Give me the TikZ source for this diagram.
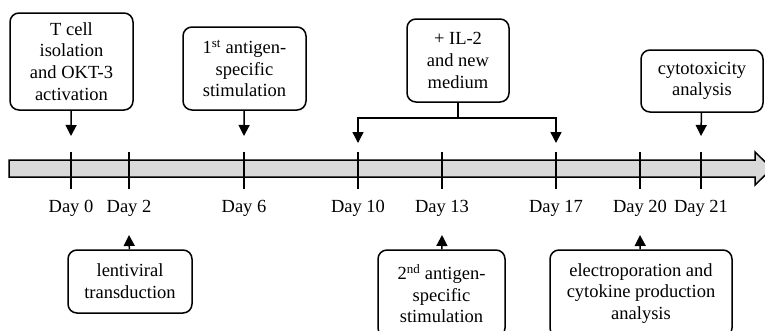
\documentclass[tikz,border=0pt]{standalone}
\usepackage{fontspec}
\setmainfont{Liberation Serif}
\usetikzlibrary{arrows.meta}

\begin{document}
\begin{tikzpicture} [-> , >= {Triangle[length = 11pt, width = 11pt]}, x = 1pt, y = -1pt, line width = 1.5pt,
        box/.style = {draw, rounded corners = 9pt, align = center, inner sep = 0pt, font = \fontsize{18.5}{21.7}\selectfont},
        day/.style = {font = \fontsize{18.5}{21.7}\selectfont},
        tick/.style = {-, line width = 2pt}]
        \useasboundingbox (0, 0) rectangle (765, 330);

        % time line
        \draw [-, fill = gray!30] (9, 160) -- (755, 160) -- (755, 152) -- (772, 168.5) -- (755, 185) -- (755, 177) -- (9, 177) -- cycle;
        \foreach \d/\x in {0/71, 2/129, 6/244, 10/358, 13/442, 17/556, 20/640, 21/701} {
            \draw [tick] (\x, 152) -- (\x, 189);
            \node [day] (d\d) at (\x, 208) {Day \d};
            \coordinate (up\d) at (\x, 136);
            \coordinate (lo\d) at (\x, 235);
        }

        \node [box, minimum width = 123pt, minimum height = 97pt] (isol) at (71.5, 61.5) {T cell\\ isolation\\ and OKT-3\\ activation};
        \node [box, minimum width = 123pt, minimum height = 83pt] (stim1) at (244.5, 68.5) {1\textsuperscript{st} antigen-\\ specific\\ stimulation};
        \node [box, minimum width = 102pt, minimum height = 83pt] (il2) at (458, 60.5) {+ IL-2\\ and new\\ medium};
        \node [box, minimum width = 122pt, minimum height = 62pt] (cyto) at (702, 81) {cytotoxicity\\ analysis};

        \path (isol) edge (up0);
        \path (stim1) edge (up6);
        \path (cyto) edge (up21);

        \coordinate (fork) at (458, 118);
        \draw [-] (il2) -- (fork);
        \draw [->] (fork) -| ([yshift = -7pt] up10);
        \draw [->] (fork) -| ([yshift = -7pt] up17);

        \node [box, minimum width = 124pt, minimum height = 63pt] (lenti) at (130, 281.5) {lentiviral\\ transduction};
        \node [box, minimum width = 127pt, minimum height = 87pt] (stim2) at (441.5, 293.5) {2\textsuperscript{nd} antigen-\\ specific\\ stimulation};
        \node [box, minimum width = 182pt, minimum height = 87pt] (elec) at (641, 293.5) {electroporation and\\ cytokine production\\ analysis};

        \path (lenti) edge (lo2);
        \path (stim2) edge (lo13);
        \path (elec) edge (lo20);
    \end{tikzpicture}
\end{document}
